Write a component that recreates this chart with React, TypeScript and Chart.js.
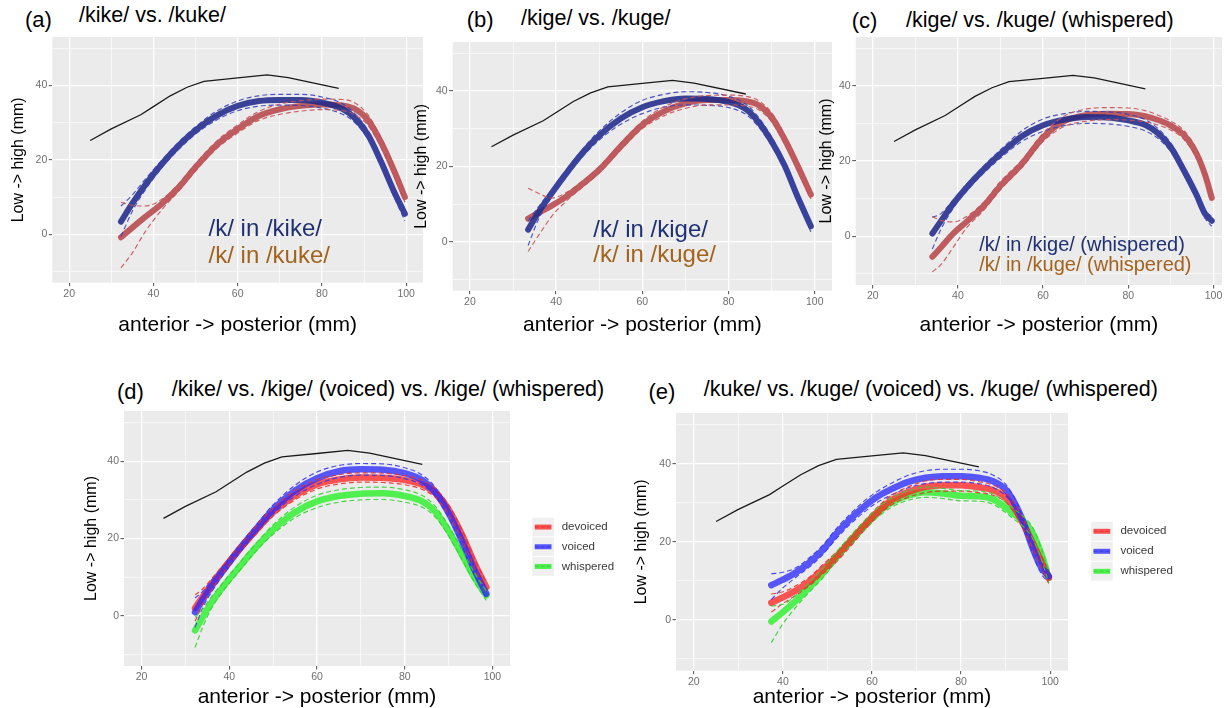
import React, { useEffect, useRef } from 'react';
import { Chart, registerables } from 'chart.js';

Chart.register(...registerables);

const FONT = '"Liberation Sans", Arial, Helvetica, sans-serif';

// ---------- shared palate trace (black line) ----------
const PALATE_X = [25, 30, 37, 40, 44, 48, 52, 60, 67, 72, 84];
const PALATE_Y = [25.2, 28.3, 32.1, 34.3, 37.2, 39.5, 41.1, 42.0, 42.8, 42.1, 39.2];

// ---------- axis ----------
const X_TITLE = 'anterior -> posterior (mm)';
const Y_TITLE = 'Low -> high (mm)';

// ---------- panel (a) ----------
const A_X = [32.3, 35, 38, 42, 46, 50, 55, 60, 65, 70, 75, 80, 85, 88, 91, 94, 97, 99.7];
const A_KIKE = [3.4, 8.3, 13.2, 18.9, 23.8, 27.9, 31.9, 34.5, 35.8, 36.1, 36.1, 35.4, 33.6, 31.0, 26.6, 19.6, 11.8, 5.5];
const A_KIKE_HI = [7.6, 10.6, 14.7, 19.9, 24.8, 28.9, 33.1, 35.8, 37.2, 37.6, 37.6, 36.9, 35.0, 32.2, 27.8, 20.8, 12.9, 6.8];
const A_KIKE_LO = [-0.6, 6.2, 11.8, 17.9, 22.8, 26.9, 30.7, 33.2, 34.4, 34.7, 34.6, 33.9, 32.2, 29.8, 25.4, 18.4, 10.4, 3.6];
const A_KUKE = [-0.8, 1.8, 4.6, 8.2, 12.6, 18.0, 24.0, 28.3, 31.8, 33.6, 34.5, 34.9, 34.6, 33.6, 30.6, 24.8, 17.4, 10.0];
const A_KUKE_HI = [8.6, 7.8, 7.6, 9.4, 13.6, 19.0, 25.0, 29.4, 33.0, 35.0, 35.9, 36.3, 36.2, 35.2, 32.0, 26.0, 18.6, 11.4];
const A_KUKE_LO = [-9.0, -5.0, 0.6, 6.6, 11.6, 17.0, 23.0, 27.2, 30.6, 32.2, 33.1, 33.5, 33.2, 32.0, 29.2, 23.4, 16.0, 8.6];

// ---------- panel (b) ----------
const B_X = [33.5, 36, 39, 42, 46, 50, 55, 60, 65, 70, 75, 80, 84, 87, 90, 93, 96, 99.1];
const B_KIGE = [3.2, 8.0, 12.9, 17.6, 23.4, 28.2, 32.7, 35.7, 37.3, 38.0, 37.9, 37.1, 35.2, 31.7, 26.6, 20.2, 12.0, 4.1];
const B_KIGE_HI = [5.5, 9.4, 13.9, 18.6, 24.4, 29.4, 34.2, 37.5, 39.1, 39.8, 39.6, 38.6, 36.5, 33.0, 27.8, 21.2, 13.0, 5.2];
const B_KIGE_LO = [-1.0, 6.2, 11.9, 16.6, 22.4, 27.0, 31.2, 34.0, 35.7, 36.3, 36.2, 35.6, 33.8, 30.4, 25.4, 19.2, 11.0, 2.6];
const B_KUGE = [6.1, 7.7, 9.6, 11.7, 15.2, 19.1, 25.3, 31.0, 34.6, 36.7, 37.6, 37.6, 37.3, 36.2, 33.0, 27.2, 20.2, 12.5];
const B_KUGE_HI = [14.2, 12.8, 11.6, 12.8, 16.0, 19.9, 26.2, 32.0, 35.8, 37.9, 38.8, 38.9, 38.6, 37.4, 34.2, 28.4, 21.4, 13.6];
const B_KUGE_LO = [-2.6, 1.8, 6.8, 10.4, 14.4, 18.3, 24.4, 30.0, 33.4, 35.4, 36.3, 36.3, 36.0, 35.0, 31.8, 26.0, 19.0, 11.4];

// ---------- panel (c) ----------
const C_X = [34, 36, 39, 42, 46, 50, 55, 60, 65, 70, 75, 80, 84, 87, 90, 93, 96, 98, 99.6];
const C_KIGE = [0.7, 4.0, 8.8, 12.9, 17.7, 21.9, 26.6, 29.5, 31.0, 31.7, 31.6, 30.8, 29.6, 27.4, 23.6, 17.6, 11.0, 6.0, 4.1];
const C_KIGE_HI = [5.0, 6.0, 9.8, 13.8, 18.6, 23.0, 28.0, 31.2, 32.6, 33.2, 33.1, 32.4, 31.0, 28.6, 24.8, 18.8, 12.0, 7.0, 5.2];
const C_KIGE_LO = [-3.4, 1.8, 7.6, 11.9, 16.7, 20.8, 25.2, 27.9, 29.4, 30.0, 29.9, 29.2, 28.0, 26.0, 22.4, 16.4, 9.8, 4.8, 2.6];
const C_KUGE = [-5.5, -3.0, 0.8, 3.8, 8.0, 13.4, 19.2, 26.3, 30.6, 32.2, 32.6, 32.5, 31.9, 30.9, 29.4, 27.0, 22.0, 16.4, 10.2];
const C_KUGE_HI = [5.2, 4.2, 3.8, 5.2, 9.0, 14.6, 20.2, 27.4, 32.0, 33.8, 34.2, 34.1, 33.4, 32.2, 30.6, 28.2, 23.2, 17.6, 11.4];
const C_KUGE_LO = [-9.5, -7.6, -2.8, 2.2, 6.8, 12.4, 18.2, 25.2, 29.2, 30.6, 31.0, 30.9, 30.4, 29.6, 28.2, 25.8, 20.8, 15.2, 9.0];

// ---------- panel (d) ----------
const D_X = [32.2, 34, 36, 39, 42, 46, 50, 55, 60, 65, 70, 75, 80, 84, 87, 90, 93, 96, 98.6];
const D_DEVOICED = [2.0, 5.0, 8.2, 12.6, 16.8, 22.0, 26.8, 31.2, 34.0, 35.3, 35.8, 35.7, 35.1, 33.9, 31.8, 27.5, 21.1, 13.4, 7.4];
const D_DEVOICED_HI = [5.4, 7.0, 9.6, 13.6, 17.7, 23.0, 27.8, 32.4, 35.2, 36.5, 37.0, 36.9, 36.3, 35.1, 33.0, 28.7, 22.3, 14.6, 8.6];
const D_DEVOICED_LO = [-1.4, 3.0, 6.8, 11.6, 15.9, 21.0, 25.8, 30.0, 32.8, 34.1, 34.6, 34.5, 33.9, 32.7, 30.6, 26.3, 19.9, 12.2, 6.2];
const D_VOICED = [0.9, 4.3, 7.7, 12.3, 16.8, 22.3, 27.5, 32.4, 35.6, 37.4, 37.9, 37.8, 36.9, 35.1, 32.0, 26.6, 19.5, 11.6, 5.7];
const D_VOICED_HI = [4.6, 6.4, 9.2, 13.4, 17.8, 23.3, 28.7, 33.8, 37.2, 38.9, 39.4, 39.3, 38.3, 36.4, 33.2, 27.8, 20.7, 12.8, 7.0];
const D_VOICED_LO = [-3.0, 2.2, 6.2, 11.2, 15.8, 21.3, 26.3, 31.0, 34.0, 35.8, 36.4, 36.3, 35.5, 33.8, 30.8, 25.4, 18.3, 10.4, 4.4];
const D_WHISPERED = [-3.8, -0.2, 3.5, 8.1, 12.2, 17.6, 22.3, 26.8, 29.6, 31.0, 31.6, 31.7, 31.0, 29.6, 26.9, 22.0, 15.9, 9.7, 5.3];
const D_WHISPERED_HI = [-0.4, 1.8, 5.0, 9.2, 13.2, 18.6, 23.5, 28.2, 31.2, 32.6, 33.2, 33.3, 32.6, 31.1, 28.3, 23.3, 17.1, 10.9, 6.4];
const D_WHISPERED_LO = [-8.2, -2.8, 2.0, 7.0, 11.2, 16.6, 21.1, 25.4, 28.0, 29.4, 30.0, 30.1, 29.4, 28.1, 25.5, 20.7, 14.7, 8.5, 4.0];

// ---------- panel (e) ----------
const E_X = [37.4, 40, 43, 46, 49, 52, 55, 58, 61, 64, 68, 72, 76, 80, 84, 87, 90, 92, 94, 96, 98, 99.7];
const E_DEVOICED = [4.4, 5.8, 7.6, 9.9, 13.0, 16.1, 19.9, 23.8, 27.4, 30.4, 32.7, 34.1, 34.5, 34.5, 34.0, 33.3, 31.4, 28.6, 24.5, 19.9, 15.0, 10.8];
const E_DEVOICED_HI = [6.6, 7.2, 8.8, 11.0, 14.2, 17.4, 21.2, 25.0, 28.6, 31.6, 34.0, 35.6, 36.0, 36.0, 35.4, 34.6, 32.6, 29.8, 25.8, 21.2, 16.4, 12.4];
const E_DEVOICED_LO = [2.0, 4.2, 6.4, 8.8, 11.8, 14.8, 18.6, 22.6, 26.2, 29.2, 31.4, 32.6, 33.0, 33.0, 32.6, 32.0, 30.2, 27.4, 23.2, 18.6, 13.6, 9.2];
const E_VOICED = [8.9, 10.3, 12.2, 14.8, 18.0, 22.1, 25.7, 28.8, 31.4, 33.3, 35.3, 36.4, 36.8, 36.8, 36.4, 35.6, 33.4, 30.0, 25.0, 18.6, 13.4, 11.2];
const E_VOICED_HI = [11.8, 12.2, 13.4, 16.0, 19.2, 23.4, 27.0, 30.2, 32.8, 34.8, 37.0, 38.2, 38.6, 38.6, 38.2, 37.2, 34.8, 31.2, 26.2, 19.8, 14.4, 12.6];
const E_VOICED_LO = [5.2, 8.2, 11.0, 13.6, 16.8, 20.8, 24.4, 27.4, 30.0, 31.8, 33.8, 34.9, 35.3, 35.3, 34.9, 34.0, 31.8, 28.6, 23.6, 17.2, 11.8, 9.6];
const E_WHISPERED = [-0.4, 2.0, 5.0, 8.4, 12.0, 16.2, 20.1, 23.8, 27.2, 29.8, 31.8, 32.7, 32.4, 31.8, 31.7, 31.0, 28.8, 27.0, 25.2, 22.4, 17.0, 10.8];
const E_WHISPERED_HI = [3.6, 4.0, 6.4, 9.6, 13.2, 17.4, 21.3, 25.0, 28.4, 31.0, 33.0, 34.0, 33.7, 33.1, 33.0, 32.3, 30.1, 28.3, 26.5, 23.8, 18.4, 12.4];
const E_WHISPERED_LO = [-5.8, -1.0, 3.4, 7.2, 10.8, 15.0, 18.9, 22.6, 26.0, 28.6, 30.6, 31.4, 31.1, 30.5, 30.4, 29.7, 27.5, 25.7, 23.9, 21.0, 15.6, 9.4];

const LEGEND_LABELS = ['devoiced', 'voiced', 'whispered'];

// ---------- colours ----------
const NAVY = 'rgba(32,42,138,0.88)';
const NAVY_DASH = 'rgba(55,65,185,0.9)';
const BRICK = 'rgba(178,58,64,0.82)';
const BRICK_DASH = 'rgba(200,80,86,0.9)';
const RED = 'rgba(255,30,30,0.75)';
const RED_DASH = 'rgba(230,45,45,0.9)';
const BLUE = 'rgba(35,35,255,0.75)';
const BLUE_DASH = 'rgba(55,55,235,0.9)';
const GREEN = 'rgba(40,240,40,0.8)';
const GREEN_DASH = 'rgba(50,210,50,0.9)';
const TXT_NAVY = '#1f3173';
const TXT_BROWN = '#a3631d';

type Series = { xs: number[]; mean: number[]; hi: number[]; lo: number[]; color: string; dash: string };
type Annot = { text: string; x: number; y: number; color: string; size: number };
type PanelSpec = {
  box: { l: number; t: number; w: number; h: number };
  yW: number; xH: number; padRight: number;
  yTitlePad: number; xTitlePad: number;
  xMin: number; xMax: number; yMin: number; yMax: number;
  series: Series[]; thick: number;
  annots: Annot[];
  legend?: { dx: number; top: number; kw: number; kh: number; size: number; colors: [string, string][] };
};

const pts = (xs: number[], ys: number[]) => xs.map((x, i) => ({ x, y: ys[i] }));

function buildDatasets(spec: PanelSpec) {
  const ds: any[] = [];
  spec.series.forEach((s, k) => {
    [s.hi, s.lo].forEach((arr) => {
      ds.push({
        data: pts(s.xs, arr), borderColor: s.dash, borderWidth: 1.15, borderDash: [5, 3],
        pointRadius: 0, fill: false, cubicInterpolationMode: 'monotone', order: 0,
      });
    });
    ds.push({
      data: pts(s.xs, s.mean), borderColor: s.color, borderWidth: spec.thick,
      borderCapStyle: 'round', borderJoinStyle: 'round',
      pointRadius: 0, fill: false, cubicInterpolationMode: 'monotone', order: 1 + (spec.series.length - k) * 0.1,
    });
  });
  ds.push({
    data: pts(PALATE_X, PALATE_Y), borderColor: '#1a1a1a', borderWidth: 1.3, tension: 0,
    pointRadius: 0, fill: false, order: 3,
  });
  return ds;
}

const isMajor = (v: number) => Math.abs(v % 20) < 1e-6;

function buildConfig(spec: PanelSpec): any {
  const bg = {
    id: 'panelBg',
    beforeDraw(chart: any) {
      const { ctx, chartArea: a } = chart;
      ctx.save();
      ctx.fillStyle = '#EBEBEB';
      ctx.fillRect(a.left, a.top, a.right - a.left, a.bottom - a.top);
      ctx.restore();
    },
  };
  const annot = {
    id: 'annotText',
    afterDatasetsDraw(chart: any) {
      const { ctx, scales } = chart;
      ctx.save();
      spec.annots.forEach((a) => {
        ctx.font = `${a.size}px ${FONT}`;
        ctx.fillStyle = a.color;
        ctx.textAlign = 'left';
        ctx.textBaseline = 'middle';
        ctx.fillText(a.text, scales.x.getPixelForValue(a.x), scales.y.getPixelForValue(a.y));
      });
      ctx.restore();
    },
  };
  const keys = {
    id: 'keyLegend',
    afterDraw(chart: any) {
      const lg = spec.legend;
      if (!lg) return;
      const { ctx, chartArea } = chart;
      const x0 = chartArea.right + lg.dx;
      ctx.save();
      LEGEND_LABELS.forEach((label, i) => {
        const y0 = chartArea.top + lg.top + i * lg.kh;
        ctx.fillStyle = '#F0F0F0';
        ctx.fillRect(x0, y0, lg.kw, lg.kh - 1);
        const cy = y0 + (lg.kh - 1) / 2;
        ctx.strokeStyle = lg.colors[i][0];
        ctx.lineWidth = 5;
        ctx.setLineDash([]);
        ctx.beginPath(); ctx.moveTo(x0 + 2.5, cy); ctx.lineTo(x0 + lg.kw - 2.5, cy); ctx.stroke();
        ctx.strokeStyle = lg.colors[i][1];
        ctx.lineWidth = 1;
        ctx.setLineDash([4, 2]);
        ctx.beginPath(); ctx.moveTo(x0 + 2.5, cy); ctx.lineTo(x0 + lg.kw - 2.5, cy); ctx.stroke();
        ctx.setLineDash([]);
        ctx.fillStyle = '#3a3a3a';
        ctx.font = `${lg.size}px ${FONT}`;
        ctx.textAlign = 'left';
        ctx.textBaseline = 'middle';
        ctx.fillText(label, x0 + lg.kw + 7.7, cy);
      });
      ctx.restore();
    },
  };
  const tickFont = { family: FONT, size: 10.5 };
  const grid = {
    color: '#FFFFFF',
    lineWidth: (c: any) => (c.tick && isMajor(c.tick.value) ? 1.3 : 0.6),
    drawTicks: true,
    tickLength: 3.5,
    tickWidth: 1,
    tickColor: (c: any) => (c.tick && isMajor(c.tick.value) ? '#4d4d4d' : 'rgba(0,0,0,0)'),
  };
  return {
    type: 'line',
    data: { datasets: buildDatasets(spec) },
    plugins: [bg, annot, keys],
    options: {
      responsive: false,
      animation: false,
      events: [],
      layout: { padding: { left: 0, top: 0, bottom: 0, right: spec.padRight } },
      plugins: { legend: { display: false }, tooltip: { enabled: false }, title: { display: false } },
      scales: {
        x: {
          type: 'linear', min: spec.xMin, max: spec.xMax,
          border: { display: false },
          grid,
          ticks: {
            stepSize: 10, includeBounds: false, autoSkip: false, maxRotation: 0, padding: 1.5,
            color: '#6f6f6f', font: tickFont,
            callback: (v: number) => (isMajor(v) ? String(v) : ''),
          },
          title: {
            display: true, text: X_TITLE, color: '#000',
            font: { family: FONT, size: 21, lineHeight: 1 },
            padding: { top: 0, bottom: spec.xTitlePad },
          },
          afterFit: (s: any) => { s.height = spec.xH; s.paddingLeft = 0; s.paddingRight = 0; },
        },
        y: {
          type: 'linear', min: spec.yMin, max: spec.yMax,
          border: { display: false },
          grid,
          ticks: {
            stepSize: 10, includeBounds: false, autoSkip: false, padding: 1.5,
            color: '#6f6f6f', font: tickFont,
            callback: (v: number) => (isMajor(v) ? String(v) : ''),
          },
          title: {
            display: true, text: Y_TITLE, color: '#000',
            font: { family: FONT, size: 16, lineHeight: 1 },
            padding: { top: spec.yTitlePad, bottom: 0 },
          },
          afterFit: (s: any) => { s.width = spec.yW; s.paddingTop = 0; s.paddingBottom = 0; },
        },
      },
    },
  };
}

function Panel({ spec }: { spec: PanelSpec }) {
  const ref = useRef<HTMLCanvasElement>(null);
  useEffect(() => {
    if (!ref.current) return;
    const chart = new Chart(ref.current, buildConfig(spec));
    return () => chart.destroy();
  }, [spec]);
  const { l, t, w, h } = spec.box;
  return (
    <canvas
      ref={ref}
      width={w}
      height={h}
      style={{ position: 'absolute', left: l, top: t, width: w, height: h }}
    />
  );
}

const AX = { xMin: 16, xMax: 104, yMin: -13, yMax: 53 };

const PANELS: PanelSpec[] = [
  {
    box: { l: 0, t: 37, w: 423, h: 308 }, yW: 52.3, xH: 62.3, padRight: 0, yTitlePad: 11, xTitlePad: 9.5,
    ...AX, thick: 6,
    series: [
      { xs: A_X, mean: A_KUKE, hi: A_KUKE_HI, lo: A_KUKE_LO, color: BRICK, dash: BRICK_DASH },
      { xs: A_X, mean: A_KIKE, hi: A_KIKE_HI, lo: A_KIKE_LO, color: NAVY, dash: NAVY_DASH },
    ],
    annots: [
      { text: '/k/ in /kike/', x: 53.1, y: 1.2, color: TXT_NAVY, size: 24 },
      { text: '/k/ in /kuke/', x: 53.1, y: -6.0, color: TXT_BROWN, size: 24 },
    ],
  },
  {
    box: { l: 410, t: 42, w: 422, h: 303 }, yW: 42.7, xH: 54.3, padRight: 0, yTitlePad: 3.7, xTitlePad: 8.8,
    ...AX, thick: 6,
    series: [
      { xs: B_X, mean: B_KUGE, hi: B_KUGE_HI, lo: B_KUGE_LO, color: BRICK, dash: BRICK_DASH },
      { xs: B_X, mean: B_KIGE, hi: B_KIGE_HI, lo: B_KIGE_LO, color: NAVY, dash: NAVY_DASH },
    ],
    annots: [
      { text: '/k/ in /kige/', x: 48.6, y: 3.0, color: TXT_NAVY, size: 24 },
      { text: '/k/ in /kuge/', x: 48.6, y: -3.6, color: TXT_BROWN, size: 24 },
    ],
  },
  {
    box: { l: 812, t: 37, w: 410, h: 308 }, yW: 43.7, xH: 60, padRight: 0, yTitlePad: 6.5, xTitlePad: 9.5,
    ...AX, xMax: 102, thick: 6,
    series: [
      { xs: C_X, mean: C_KUGE, hi: C_KUGE_HI, lo: C_KUGE_LO, color: BRICK, dash: BRICK_DASH },
      { xs: C_X, mean: C_KIGE, hi: C_KIGE_HI, lo: C_KIGE_LO, color: NAVY, dash: NAVY_DASH },
    ],
    annots: [
      { text: '/k/ in /kige/ (whispered)', x: 45.0, y: -2.4, color: TXT_NAVY, size: 20 },
      { text: '/k/ in /kuge/ (whispered)', x: 45.0, y: -7.7, color: TXT_BROWN, size: 20 },
    ],
  },
  {
    box: { l: 80, t: 411, w: 550, h: 297 }, yW: 44, xH: 42, padRight: 120, yTitlePad: 4, xTitlePad: 0,
    ...AX, thick: 6.5,
    series: [
      { xs: D_X, mean: D_WHISPERED, hi: D_WHISPERED_HI, lo: D_WHISPERED_LO, color: GREEN, dash: GREEN_DASH },
      { xs: D_X, mean: D_DEVOICED, hi: D_DEVOICED_HI, lo: D_DEVOICED_LO, color: RED, dash: RED_DASH },
      { xs: D_X, mean: D_VOICED, hi: D_VOICED_HI, lo: D_VOICED_LO, color: BLUE, dash: BLUE_DASH },
    ],
    annots: [],
    legend: { dx: 22.3, top: 106.7, kw: 21.7, kh: 19.7, size: 11.5, colors: [[RED, RED_DASH], [BLUE, BLUE_DASH], [GREEN, GREEN_DASH]] },
  },
  {
    box: { l: 630, t: 413, w: 598, h: 295 }, yW: 46, xH: 37.3, padRight: 160, yTitlePad: 3.7, xTitlePad: 0.5,
    ...AX, thick: 6.5,
    series: [
      { xs: E_X, mean: E_WHISPERED, hi: E_WHISPERED_HI, lo: E_WHISPERED_LO, color: GREEN, dash: GREEN_DASH },
      { xs: E_X, mean: E_DEVOICED, hi: E_DEVOICED_HI, lo: E_DEVOICED_LO, color: RED, dash: RED_DASH },
      { xs: E_X, mean: E_VOICED, hi: E_VOICED_HI, lo: E_VOICED_LO, color: BLUE, dash: BLUE_DASH },
    ],
    annots: [],
    legend: { dx: 23, top: 108.8, kw: 21.7, kh: 20, size: 11.5, colors: [[RED, RED_DASH], [BLUE, BLUE_DASH], [GREEN, GREEN_DASH]] },
  },
];

const HEADERS = [
  { text: '(a)', left: 25, top: 9, size: 22 },
  { text: '/kike/ vs. /kuke/', left: 79, top: 4.6, size: 21.5 },
  { text: '(b)', left: 466.7, top: 9.4, size: 22 },
  { text: '/kige/ vs. /kuge/', left: 521, top: 8.3, size: 21.5 },
  { text: '(c)', left: 851.7, top: 9.9, size: 22 },
  { text: '/kige/ vs. /kuge/ (whispered)', left: 906, top: 10.1, size: 21.5 },
  { text: '(d)', left: 117, top: 381, size: 22 },
  { text: '/kike/ vs. /kige/ (voiced) vs. /kige/ (whispered)', left: 171.7, top: 379, size: 21.5 },
  { text: '(e)', left: 648.4, top: 381, size: 22 },
  { text: '/kuke/ vs. /kuge/ (voiced) vs. /kuge/ (whispered)', left: 703.8, top: 379, size: 21.5 },
];

export default function App() {
  return (
    <div style={{ position: 'absolute', left: 0, top: 0, width: 1228, height: 708, overflow: 'hidden', background: '#fff' }}>
      {HEADERS.map((h, i) => (
        <div
          key={i}
          style={{
            position: 'absolute', left: h.left, top: h.top, fontFamily: FONT, fontSize: h.size,
            lineHeight: 1, color: '#000', whiteSpace: 'nowrap',
          }}
        >
          {h.text}
        </div>
      ))}
      {PANELS.map((p, i) => (
        <Panel key={i} spec={p} />
      ))}
    </div>
  );
}
